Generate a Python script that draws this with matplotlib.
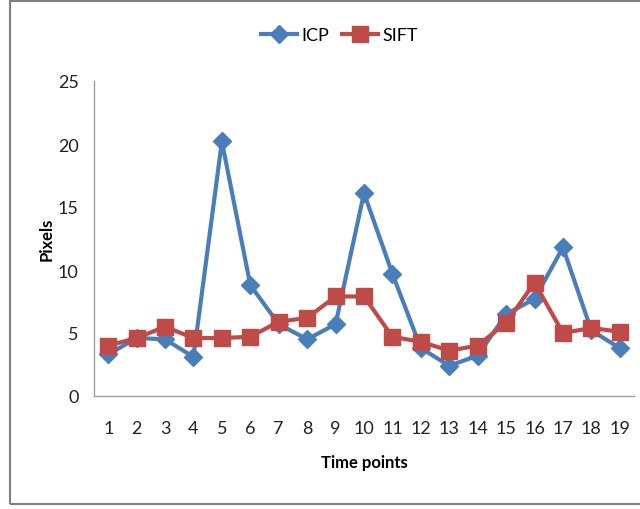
import matplotlib
matplotlib.use("Agg")
import matplotlib.pyplot as plt
from matplotlib.patches import Rectangle

time_points = list(range(1, 20))
icp = [3.3, 4.6, 4.5, 3.1, 20.2, 8.8, 5.7, 4.5, 5.7, 16.1, 9.7, 3.8, 2.4, 3.2, 6.5, 7.7, 11.8, 5.2, 3.8]
sift = [4.0, 4.6, 5.5, 4.6, 4.6, 4.7, 5.9, 6.2, 7.9, 7.9, 4.7, 4.3, 3.6, 4.0, 5.8, 9.0, 5.0, 5.4, 5.1]
y_ticks = [0, 5, 10, 15, 20, 25]

plt.rcParams['font.family'] = ['Lato', 'DejaVu Sans']

fig = plt.figure(figsize=(6.4, 5.1), dpi=100)
fig.patches.append(Rectangle((10/640, 5/510), 640/640, 503/510, transform=fig.transFigure,
                             fill=False, edgecolor='#808080', linewidth=1.5))
ax = fig.add_axes([94/640, 113/510, 540/640, 315/510])

ax.plot(time_points, icp, color='#4a7ebb', linewidth=3, marker='D', markersize=9, label='ICP')
ax.plot(time_points, sift, color='#be4b48', linewidth=3, marker='s', markersize=11, label='SIFT')

ax.set_xlim(0.5, 19.5)
ax.set_ylim(0, 25)
ax.set_xticks(time_points)
ax.set_yticks(y_ticks)
ax.tick_params(axis='both', length=0, labelsize=13, colors='#222222')
ax.tick_params(axis='x', pad=17)
ax.tick_params(axis='y', pad=11)
for s in ['top', 'right']:
    ax.spines[s].set_visible(False)
for s in ['left', 'bottom']:
    ax.spines[s].set_color('#a0a0a0')
    ax.spines[s].set_linewidth(1)

ax.set_xlabel('Time points', fontsize=12, fontweight='bold', labelpad=13)
ax.set_ylabel('Pixels', fontsize=12, fontweight='bold', labelpad=2)

ax.legend(loc='upper center', bbox_to_anchor=(0.455, 1.222), ncol=2, frameon=False,
          fontsize=13, handlelength=2.0, columnspacing=0.7, handletextpad=0.25)

fig.savefig('out.png', dpi=100)
